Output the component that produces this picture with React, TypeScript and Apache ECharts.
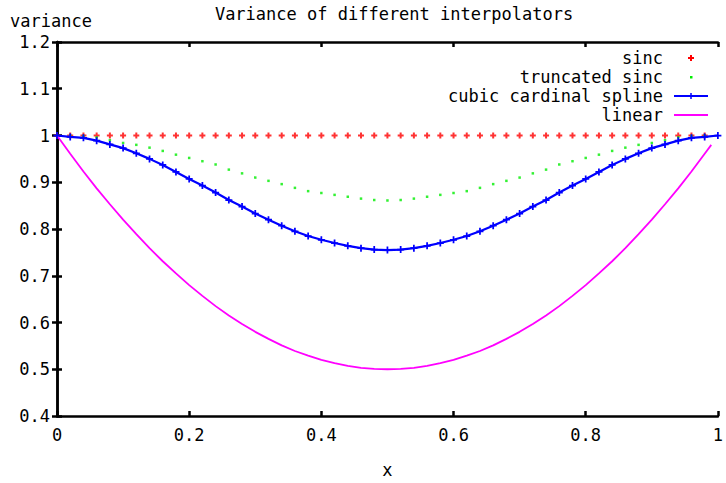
import React, { useEffect, useRef } from "react";
import * as echarts from "echarts";

const FONT = "DejaVu Sans Mono";

const titleText = "Variance of different interpolators";
const yAxisLabel = "variance";
const xAxisLabel = "x";
const seriesNames = ["sinc", "truncated sinc", "cubic cardinal spline", "linear"];

// sample positions (0 .. 1, step 0.02)
const xSamples = [
  0, 0.02, 0.04, 0.06, 0.08, 0.1, 0.12, 0.14, 0.16, 0.18,
  0.2, 0.22, 0.24, 0.26, 0.28, 0.3, 0.32, 0.34, 0.36, 0.38,
  0.4, 0.42, 0.44, 0.46, 0.48, 0.5, 0.52, 0.54, 0.56, 0.58,
  0.6, 0.62, 0.64, 0.66, 0.68, 0.7, 0.72, 0.74, 0.76, 0.78,
  0.8, 0.82, 0.84, 0.86, 0.88, 0.9, 0.92, 0.94, 0.96, 0.98, 1.0,
];
const linearExtraX = [0.99];

const sincValues = [
  1, 1, 1, 1, 1, 1, 1, 1, 1, 1,
  1, 1, 1, 1, 1, 1, 1, 1, 1, 1,
  1, 1, 1, 1, 1, 1, 1, 1, 1, 1,
  1, 1, 1, 1, 1, 1, 1, 1, 1, 1,
  1, 1, 1, 1, 1, 1, 1, 1, 1, 1,
];

const truncatedSincValues = [
  1.0, 1.0, 0.999, 0.996, 0.99, 0.984, 0.98, 0.974, 0.967, 0.959,
  0.952, 0.945, 0.938, 0.927, 0.919, 0.91, 0.903, 0.896, 0.888, 0.881,
  0.877, 0.873, 0.869, 0.865, 0.862, 0.861, 0.862, 0.865, 0.869, 0.873,
  0.877, 0.881, 0.888, 0.896, 0.903, 0.91, 0.919, 0.927, 0.938, 0.945,
  0.952, 0.959, 0.967, 0.974, 0.98, 0.984, 0.99, 0.996, 0.999, 1.0,
];

const cubicValues = [
  1.0, 0.997, 0.995, 0.989, 0.981, 0.973, 0.962, 0.95, 0.937, 0.922,
  0.907, 0.893, 0.878, 0.862, 0.848, 0.833, 0.82, 0.807, 0.795, 0.785,
  0.777, 0.77, 0.764, 0.759, 0.756, 0.755, 0.756, 0.759, 0.764, 0.77,
  0.777, 0.785, 0.795, 0.807, 0.82, 0.833, 0.848, 0.862, 0.878, 0.893,
  0.907, 0.922, 0.937, 0.95, 0.962, 0.973, 0.981, 0.989, 0.995, 0.997, 1.0,
];

const linearValues = [
  1.0, 0.961, 0.923, 0.887, 0.853, 0.82, 0.789, 0.759, 0.731, 0.705,
  0.68, 0.657, 0.635, 0.615, 0.597, 0.58, 0.565, 0.551, 0.539, 0.529,
  0.52, 0.513, 0.507, 0.503, 0.501, 0.5, 0.501, 0.503, 0.507, 0.513,
  0.52, 0.529, 0.539, 0.551, 0.565, 0.58, 0.597, 0.615, 0.635, 0.657,
  0.68, 0.705, 0.731, 0.759, 0.789, 0.82, 0.853, 0.887, 0.923, 0.961,
  0.98,
];

const COLORS = ["#ff0000", "#00ee00", "#0000ff", "#ff00ff"];

const PLUS_BOLD = "path://M2,0H4V2H6V4H4V6H2V4H0V2H2Z";
const PLUS_THIN = "path://M2.25,0H3.75V2.25H6V3.75H3.75V6H2.25V3.75H0V2.25H2.25Z";

function pairs(xs: number[], ys: number[]) {
  return ys.map((y, i) => [xs[i], y]);
}

export default function App() {
  const ref = useRef<HTMLDivElement>(null);
  useEffect(() => {
    if (!ref.current) return;
    const chart = echarts.init(ref.current, null, { renderer: "svg" });
    const linearX = xSamples.slice(0, 50).concat(linearExtraX);

    const axisLine = { show: true, lineStyle: { color: "#000", width: 2.5 } };
    const tick = { show: true, inside: true, length: 5, lineStyle: { color: "#000", width: 2.5 } };
    const labelStyle = { fontFamily: FONT, fontSize: 17, color: "#000" };

    const legendRightText = 663;
    const legendRows = [58, 77, 96, 115];
    const sampleX0 = 674;
    const sampleX1 = 708;
    const sampleMid = 691;

    const graphics: any[] = [];
    seriesNames.forEach((name, i) => {
      graphics.push({
        type: "text",
        x: legendRightText,
        y: legendRows[i],
        style: {
          text: name,
          fill: "#000",
          font: `17px "${FONT}"`,
          textAlign: "right",
          textVerticalAlign: "middle",
        },
      });
    });
    // sinc: red bold plus
    graphics.push({ type: "rect", shape: { x: sampleMid - 3, y: legendRows[0] - 1, width: 6, height: 2 }, style: { fill: COLORS[0] } });
    graphics.push({ type: "rect", shape: { x: sampleMid - 1, y: legendRows[0] - 3, width: 2, height: 6 }, style: { fill: COLORS[0] } });
    // truncated sinc: dot
    graphics.push({ type: "rect", shape: { x: sampleMid - 1, y: legendRows[1] - 1, width: 2.5, height: 2.5 }, style: { fill: COLORS[1] } });
    // cubic: line with plus
    graphics.push({ type: "line", shape: { x1: sampleX0, y1: legendRows[2], x2: sampleX1, y2: legendRows[2] }, style: { stroke: COLORS[2], lineWidth: 2.2 } });
    graphics.push({ type: "rect", shape: { x: sampleMid - 3, y: legendRows[2] - 0.75, width: 6, height: 1.5 }, style: { fill: COLORS[2] } });
    graphics.push({ type: "rect", shape: { x: sampleMid - 0.75, y: legendRows[2] - 3, width: 1.5, height: 6 }, style: { fill: COLORS[2] } });
    // linear: line
    graphics.push({ type: "line", shape: { x1: sampleX0, y1: legendRows[3], x2: sampleX1, y2: legendRows[3] }, style: { stroke: COLORS[3], lineWidth: 1.8 } });
    // y axis name
    graphics.push({
      type: "text",
      x: 10,
      y: 21,
      style: { text: yAxisLabel, fill: "#000", font: `17px "${FONT}"`, textAlign: "left", textVerticalAlign: "middle" },
    });

    chart.setOption({
      animation: false,
      backgroundColor: "#fff",
      title: {
        text: titleText,
        left: 389,
        top: 0,
        textAlign: "center",
        textStyle: { fontFamily: FONT, fontSize: 17, fontWeight: "normal", color: "#000" },
      },
      grid: { left: 57, right: 5, top: 42, bottom: 63, containLabel: false },
      xAxis: [
        {
          type: "value",
          min: 0,
          max: 1,
          interval: 0.2,
          position: "bottom",
          name: xAxisLabel,
          nameLocation: "middle",
          nameGap: 45,
          nameTextStyle: labelStyle,
          axisLine,
          axisTick: tick,
          axisLabel: { ...labelStyle, margin: 10 },
          splitLine: { show: false },
        },
        {
          type: "value",
          min: 0,
          max: 1,
          interval: 0.2,
          position: "top",
          axisLine,
          axisTick: tick,
          axisLabel: { show: false },
          splitLine: { show: false },
        },
      ],
      yAxis: [
        {
          type: "value",
          min: 0.4,
          max: 1.2,
          interval: 0.1,
          position: "left",
          axisLine,
          axisTick: tick,
          axisLabel: { ...labelStyle, margin: 7 },
          splitLine: { show: false },
        },
        {
          type: "value",
          min: 0.4,
          max: 1.2,
          interval: 0.1,
          position: "right",
          axisLine,
          axisTick: tick,
          axisLabel: { show: false },
          splitLine: { show: false },
        },
      ],
      series: [
        {
          name: seriesNames[0],
          type: "scatter",
          data: pairs(xSamples, sincValues),
          symbol: PLUS_BOLD,
          symbolSize: 6,
          itemStyle: { color: COLORS[0] },
        },
        {
          name: seriesNames[1],
          type: "scatter",
          data: pairs(xSamples, truncatedSincValues),
          symbol: "rect",
          symbolSize: 2.5,
          itemStyle: { color: COLORS[1] },
        },
        {
          name: seriesNames[2],
          type: "line",
          data: pairs(xSamples, cubicValues),
          showSymbol: true,
          symbol: PLUS_THIN,
          symbolSize: 7,
          itemStyle: { color: COLORS[2] },
          lineStyle: { color: COLORS[2], width: 2.2 },
        },
        {
          name: seriesNames[3],
          type: "line",
          data: pairs(linearX, linearValues),
          showSymbol: false,
          lineStyle: { color: COLORS[3], width: 1.8 },
          itemStyle: { color: COLORS[3] },
        },
      ],
      graphic: graphics,
    });
    return () => chart.dispose();
  }, []);
  return (
    <div
      ref={ref}
      style={{ position: "absolute", left: 0, top: 0, width: 726, height: 483 }}
    />
  );
}
